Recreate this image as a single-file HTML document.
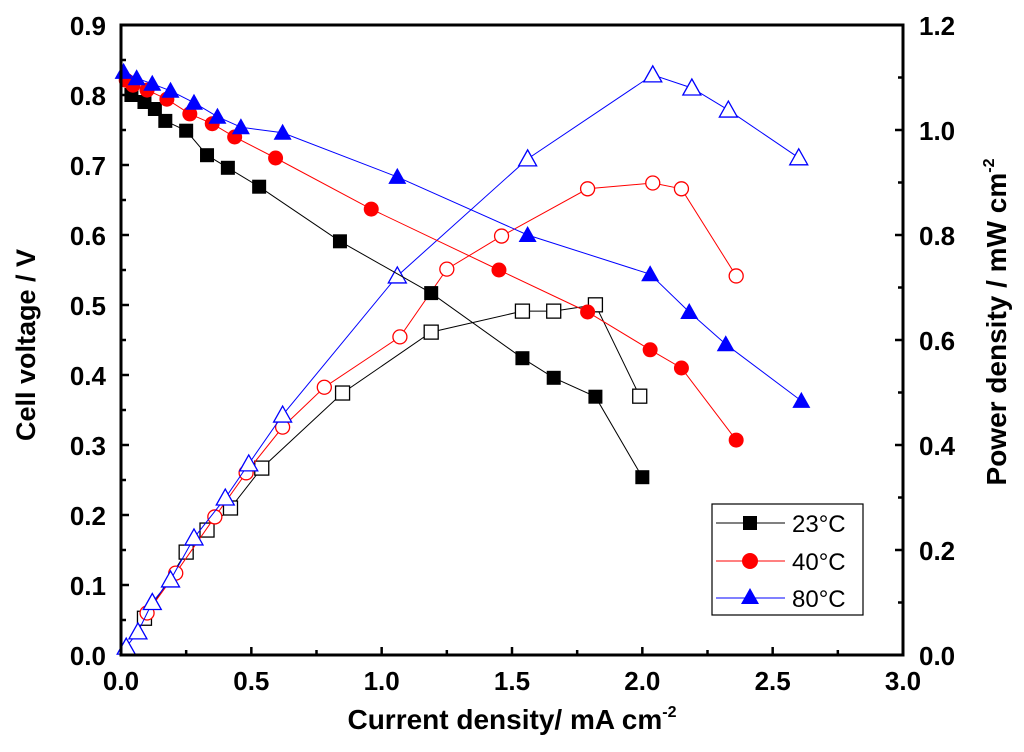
<!DOCTYPE html>
<html><head><meta charset="utf-8"><style>
body{margin:0;background:#fff}
svg text{font-family:"Liberation Sans",Arial,sans-serif;font-weight:bold}
</style></head><body>
<svg id="chart" width="1024" height="747" viewBox="0 0 1024 747" xmlns="http://www.w3.org/2000/svg">
<g id="marks"></g>
<g id="axes"></g>
<text x="512" y="729" text-anchor="middle" font-size="28">Current density/ mA cm<tspan font-size="16" dy="-12">-2</tspan></text>
<text transform="translate(35,345) rotate(-90)" text-anchor="middle" font-size="27">Cell voltage / V</text>
<text transform="translate(1006,322) rotate(-90)" text-anchor="middle" font-size="28">Power density / mW cm<tspan font-size="16" dy="-12">-2</tspan></text>
<g>
<rect x="712" y="504" width="151" height="111" fill="#fff" stroke="#000" stroke-width="1.2"/>
<g><line x1="716" y1="523" x2="785" y2="523" stroke="#000" stroke-width="1"/><rect x="743" y="516" width="14" height="14" fill="#000"/><text x="792" y="532" font-size="24" style="font-weight:normal">23°C</text></g>
<g><line x1="716" y1="561" x2="785" y2="561" stroke="#f00" stroke-width="1"/><circle cx="750" cy="561" r="8" fill="#f00"/><text x="792" y="570" font-size="24" style="font-weight:normal">40°C</text></g>
<g><line x1="716" y1="598" x2="785" y2="598" stroke="#00f" stroke-width="1"/><polygon points="750,588 759,604 741,604" fill="#00f"/><text x="792" y="607" font-size="24" style="font-weight:normal">80°C</text></g>
</g>
</svg>
<script>
const v23I=[0.04,0.09,0.13,0.17,0.25,0.33,0.41,0.53,0.84,1.19,1.54,1.66,1.82,2.0];
const v23V=[0.80,0.79,0.78,0.763,0.749,0.714,0.696,0.669,0.591,0.517,0.424,0.396,0.369,0.254];
const p23I=[0.09,0.25,0.33,0.42,0.54,0.85,1.19,1.54,1.66,1.82,1.99];
const p23P=[0.07,0.196,0.238,0.28,0.356,0.499,0.615,0.655,0.655,0.667,0.493];
const v40I=[0.02,0.046,0.10,0.176,0.264,0.35,0.436,0.593,0.96,1.45,1.79,2.03,2.15,2.36];
const v40V=[0.821,0.814,0.807,0.794,0.773,0.759,0.74,0.71,0.637,0.55,0.49,0.436,0.41,0.307];
const p40I=[0.10,0.21,0.36,0.48,0.62,0.78,1.07,1.25,1.46,1.79,2.04,2.15,2.36];
const p40P=[0.08,0.156,0.263,0.347,0.434,0.51,0.606,0.735,0.798,0.888,0.899,0.888,0.722];
const v80I=[0.01,0.06,0.12,0.19,0.28,0.37,0.46,0.62,1.06,1.56,2.03,2.18,2.32,2.61];
const v80V=[0.833,0.824,0.816,0.806,0.789,0.769,0.754,0.746,0.683,0.60,0.544,0.49,0.444,0.363];
const p80I=[0.02,0.065,0.12,0.19,0.28,0.40,0.49,0.62,1.06,1.56,2.04,2.19,2.33,2.60];
const p80P=[0.015,0.044,0.10,0.143,0.223,0.299,0.364,0.457,0.722,0.945,1.105,1.08,1.038,0.947];
const xTicks=["0.0","0.5","1.0","1.5","2.0","2.5","3.0"];
const yTicks=["0.0","0.1","0.2","0.3","0.4","0.5","0.6","0.7","0.8","0.9"];
const y2Ticks=["0.0","0.2","0.4","0.6","0.8","1.0","1.2"];

const L=121,R=903,T=25,B=655;
const xs=v=>L+v/3*(R-L), ys=v=>B-v/0.9*(B-T), ys2=v=>B-v/1.2*(B-T);
const NS="http://www.w3.org/2000/svg";
const marks=document.getElementById('marks'), axes=document.getElementById('axes');
function mk(tag,attrs,parent){const e=document.createElementNS(NS,tag);for(const k in attrs)e.setAttribute(k,attrs[k]);parent.appendChild(e);return e;}
function marker(kind,x,y,color,filled,parent){
  const f=filled?color:'#fff', sw=filled?0:1.3;
  if(kind==='sq') return mk('rect',{x:x-7,y:y-7,width:14,height:14,fill:f,stroke:color,'stroke-width':sw},parent);
  if(kind==='ci') return mk('circle',{cx:x,cy:y,r:filled?7.5:7,fill:f,stroke:color,'stroke-width':sw},parent);
  return mk('polygon',{points:`${x},${y-9} ${x+9},${y+7} ${x-9},${y+7}`,fill:f,stroke:color,'stroke-width':sw},parent);
}
function series(name,I,V,yf,color,kind,filled){
  const g=mk('g',{},marks);
  
  
  const pts=I.map((v,i)=>xs(v)+','+yf(V[i])).join(' ');
  mk('polyline',{points:pts,fill:'none',stroke:color,'stroke-width':1},g);
  I.forEach((v,i)=>{const m=marker(kind,xs(v),yf(V[i]),color,filled,g);
    
    });
}
series('power-23c',p23I,p23P,ys2,'#000','sq',false);
series('power-40c',p40I,p40P,ys2,'#f00','ci',false);
series('power-80c',p80I,p80P,ys2,'#00f','tr',false);
series('voltage-23c',v23I,v23V,ys,'#000','sq',true);
series('voltage-40c',v40I,v40V,ys,'#f00','ci',true);
series('voltage-80c',v80I,v80V,ys,'#00f','tr',true);

const frame=mk('rect',{x:L,y:T,width:R-L,height:B-T,fill:'none',stroke:'#000','stroke-width':3},axes);


xTicks.forEach((t,i)=>{const v=parseFloat(t),x=xs(v);
  mk('line',{x1:x,y1:B,x2:x,y2:B-8,stroke:'#000','stroke-width':2.5},axes);
  if(i<xTicks.length-1){const xm=xs(v+0.25);mk('line',{x1:xm,y1:B,x2:xm,y2:B-5,stroke:'#000','stroke-width':2.5},axes);}
  const tx=mk('text',{x:x,y:B+35,'text-anchor':'middle','font-size':26},axes);tx.textContent=t;
  
  
});
yTicks.forEach((t,i)=>{const v=parseFloat(t),y=ys(v);
  mk('line',{x1:L,y1:y,x2:L+8,y2:y,stroke:'#000','stroke-width':2.5},axes);
  if(i<yTicks.length-1){const ym=ys(v+0.05);mk('line',{x1:L,y1:ym,x2:L+5,y2:ym,stroke:'#000','stroke-width':2.5},axes);}
  const tx=mk('text',{x:L-15,y:y+10,'text-anchor':'end','font-size':26},axes);tx.textContent=t;
  
  
});
y2Ticks.forEach((t,i)=>{const v=parseFloat(t),y=ys2(v);
  mk('line',{x1:R,y1:y,x2:R-8,y2:y,stroke:'#000','stroke-width':2.5},axes);
  if(i<y2Ticks.length-1){const ym=ys2(v+0.1);mk('line',{x1:R,y1:ym,x2:R-5,y2:ym,stroke:'#000','stroke-width':2.5},axes);}
  const tx=mk('text',{x:R+16,y:y+10,'text-anchor':'start','font-size':26},axes);tx.textContent=t;
  
  
});
</script>
</body></html>
